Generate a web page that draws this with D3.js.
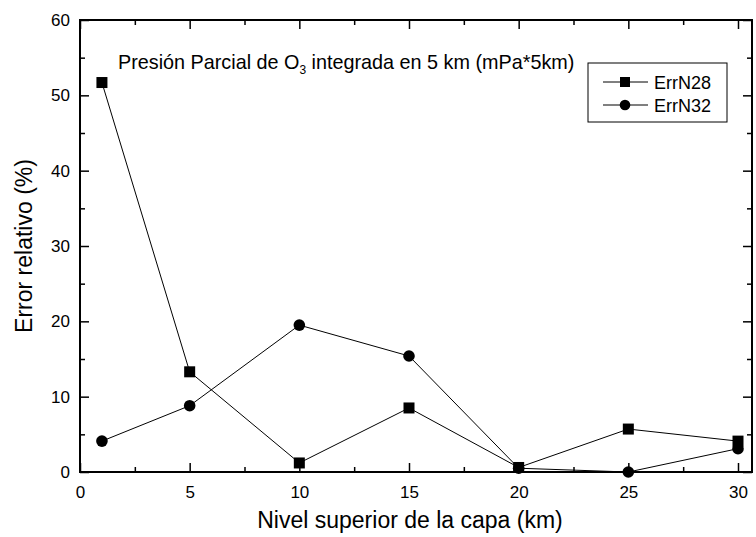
<!DOCTYPE html>
<html><head><meta charset="utf-8">
<script src="https://cdn.jsdelivr.net/npm/d3@7"></script>
<style>body{margin:0;background:#fff}svg{display:block;font-family:"Liberation Sans",Arial,sans-serif}</style>
</head><body>
<svg id="c" width="756" height="537"></svg>
<script>
const xValues = [1, 5, 10, 15, 20, 25, 30];
const errN28 = [51.7, 13.3, 1.2, 8.5, 0.6, 5.7, 4.1];
const errN32 = [4.1, 8.8, 19.5, 15.4, 0.5, 0.0, 3.1];
const xTicks = [0, 5, 10, 15, 20, 25, 30];
const yTicks = [0, 10, 20, 30, 40, 50, 60];
const seriesNames = ["ErrN28", "ErrN32"];

const svg = d3.select("#c");
const L = 80, R = 752, T = 20, B = 472;
const x = d3.scaleLinear().domain([0, 30]).range([L, 738]);
const y = d3.scaleLinear().domain([0, 60]).range([B, T]);

const minorX = d3.range(0, 31, 2.5).filter(v => v % 5 !== 0);
const minorY = d3.range(0, 61, 5).filter(v => v % 10 !== 0);

// bottom axis
svg.append("g").attr("transform", `translate(0,${B})`)
  .call(d3.axisBottom(x).tickValues(xTicks).tickSize(-9).tickPadding(14).tickFormat(d3.format("d")));
svg.append("g").attr("transform", `translate(0,${B})`)
  .call(d3.axisBottom(x).tickValues(minorX).tickSize(-5).tickFormat(""));
// top axis
svg.append("g").attr("transform", `translate(0,${T})`)
  .call(d3.axisTop(x).tickValues(xTicks).tickSize(-9).tickFormat(""));
svg.append("g").attr("transform", `translate(0,${T})`)
  .call(d3.axisTop(x).tickValues(minorX).tickSize(-5).tickFormat(""));
// left axis
svg.append("g").attr("transform", `translate(${L},0)`)
  .call(d3.axisLeft(y).tickValues(yTicks).tickSize(-9).tickPadding(10).tickFormat(d3.format("d")));
svg.append("g").attr("transform", `translate(${L},0)`)
  .call(d3.axisLeft(y).tickValues(minorY).tickSize(-5).tickFormat(""));
// right axis
svg.append("g").attr("transform", `translate(${R},0)`)
  .call(d3.axisRight(y).tickValues(yTicks).tickSize(-9).tickFormat(""));
svg.append("g").attr("transform", `translate(${R},0)`)
  .call(d3.axisRight(y).tickValues(minorY).tickSize(-5).tickFormat(""));

svg.selectAll(".domain").remove();
svg.selectAll(".tick line").attr("stroke", "#000").attr("stroke-width", 1.5);
svg.selectAll(".tick text").attr("font-size", 17).attr("fill", "#000")
  .attr("font-family", "Liberation Sans, Arial, sans-serif");

svg.append("rect").attr("x", L).attr("y", T).attr("width", R - L).attr("height", B - T)
  .attr("fill", "none").attr("stroke", "#000").attr("stroke-width", 2);

// lines
const line = d3.line().x((d, i) => x(xValues[i])).y(d => y(d));
[errN28, errN32].forEach(s => {
  svg.append("path").datum(s).attr("d", line).attr("fill", "none").attr("stroke", "#000").attr("stroke-width", 1);
});
// markers
svg.selectAll(".sq").data(errN28).enter().append("rect")
  .attr("x", (d, i) => x(xValues[i]) - 5.5).attr("y", d => y(d) - 5.5)
  .attr("width", 11).attr("height", 11).attr("fill", "#000");
svg.selectAll(".ci").data(errN32).enter().append("circle")
  .attr("cx", (d, i) => x(xValues[i])).attr("cy", d => y(d)).attr("r", 5.8).attr("fill", "#000");

// title
const t = svg.append("text").attr("x", 118).attr("y", 69).attr("font-size", 19.8).attr("fill", "#000");
t.append("tspan").text("Presión Parcial de O");
t.append("tspan").attr("font-size", 12).attr("dy", 5).text("3");
t.append("tspan").attr("dy", -5).text(" integrada en 5 km (mPa*5km)");

// legend
const lg = svg.append("g");
lg.append("rect").attr("x", 588).attr("y", 63).attr("width", 139).attr("height", 59)
  .attr("fill", "#fff").attr("stroke", "#000").attr("stroke-width", 1);
seriesNames.forEach((n, i) => {
  const yy = 82 + i * 23;
  lg.append("line").attr("x1", 603).attr("x2", 648).attr("y1", yy).attr("y2", yy).attr("stroke", "#000");
  if (i === 0) lg.append("rect").attr("x", 620).attr("y", yy - 5).attr("width", 10).attr("height", 10).attr("fill", "#000");
  else lg.append("circle").attr("cx", 625).attr("cy", yy).attr("r", 5.3).attr("fill", "#000");
  lg.append("text").attr("x", 654).attr("y", yy + 6.5).attr("font-size", 18).text(n);
});

// axis titles
svg.append("text").attr("x", 410).attr("y", 528).attr("text-anchor", "middle").attr("font-size", 23).text("Nivel superior de la capa (km)");
svg.append("text").attr("transform", "translate(32,246) rotate(-90)").attr("text-anchor", "middle").attr("font-size", 23).text("Error relativo (%)");
</script>
</body></html>
